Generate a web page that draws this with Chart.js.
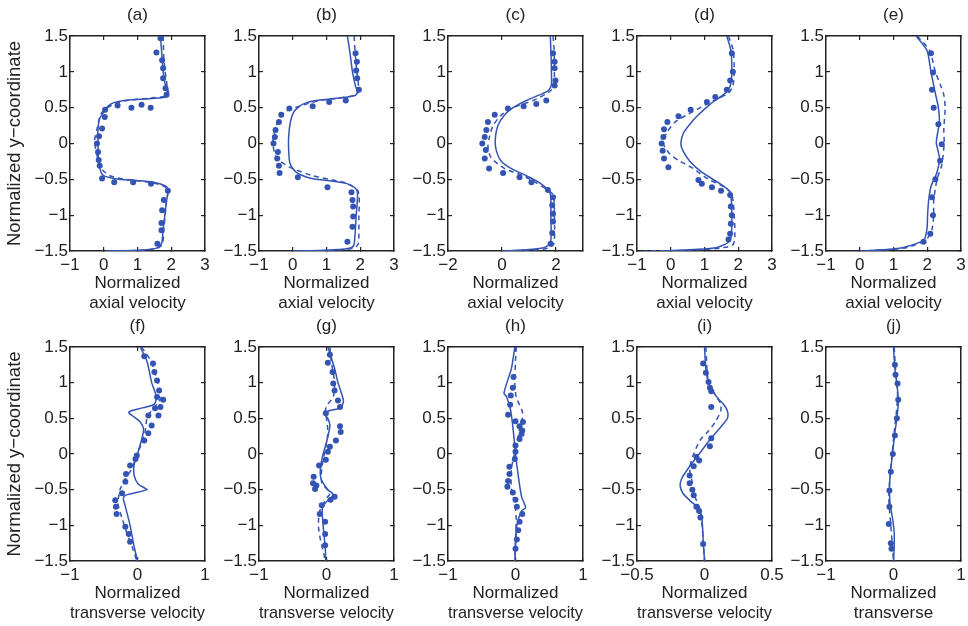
<!DOCTYPE html>
<html>
<head>
<meta charset="utf-8">
<script src="https://cdn.jsdelivr.net/npm/chart.js@4.4.1/dist/chart.umd.min.js"></script>
<style>
  html, body { margin: 0; padding: 0; background: #fff; }
  #fig { position: relative; width: 968px; height: 626px; overflow: hidden; }
  #fig canvas { position: absolute; }
</style>
</head>
<body>
<div id="fig"></div>
<script>
// tick values
const yTicks = [-1.5, -1, -0.5, 0, 0.5, 1, 1.5];
const axialTicks = [-1, 0, 1, 2, 3];
const axialTicksWide = [-2, 0, 2];
const transTicks = [-1, 0, 1];
const transTicksNarrow = [-0.5, 0, 0.5];

// profiles as [velocity, y] pairs, listed top to bottom
// (a)
const aSolid = [[1.68,1.5],[1.72,1.25],[1.76,1.0],[1.83,0.8],[1.90,0.7],[1.84,0.65],[1.2,0.62],[0.6,0.6],[0.3,0.57],[0.12,0.52],[0.02,0.45],[-0.12,0.35],[-0.17,0.2],[-0.17,0],[-0.16,-0.2],[-0.13,-0.32],[-0.03,-0.44],[0.45,-0.5],[1.1,-0.52],[1.56,-0.55],[1.86,-0.6],[1.91,-0.66],[1.86,-0.8],[1.81,-1.0],[1.76,-1.2],[1.71,-1.4],[1.56,-1.46],[1.0,-1.49],[0.08,-1.5]];
const aDashed = [[1.76,1.5],[1.78,1.2],[1.82,1.0],[1.88,0.8],[1.92,0.7],[1.85,0.66],[1.3,0.63],[0.7,0.6],[0.35,0.56],[0.18,0.52],[0.02,0.47],[-0.1,0.4],[-0.2,0.2],[-0.27,0.05],[-0.25,-0.05],[-0.18,-0.2],[-0.07,-0.35],[0.18,-0.45],[0.67,-0.5],[1.47,-0.55],[1.8,-0.6],[1.9,-0.66],[1.86,-0.8],[1.82,-1.0],[1.78,-1.2],[1.74,-1.4],[1.6,-1.46],[1.1,-1.49],[0.08,-1.5]];
const aDots = [[1.68,1.47],[1.56,1.27],[1.73,1.16],[1.76,1.05],[1.76,0.91],[1.83,0.77],[1.86,0.68],[1.39,0.5],[1.12,0.54],[0.82,0.5],[0.41,0.53],[0.04,0.47],[0.03,0.37],[-0.05,0.21],[-0.14,0.1],[-0.2,0.0],[-0.17,-0.12],[-0.15,-0.23],[-0.12,-0.31],[-0.05,-0.49],[0.31,-0.54],[0.87,-0.54],[1.4,-0.56],[1.9,-0.66],[1.78,-0.79],[1.73,-0.93],[1.71,-1.11],[1.71,-1.21],[1.59,-1.4]];
// (b)
const bSolid = [[1.62,1.5],[1.7,1.25],[1.77,1.0],[1.86,0.8],[1.92,0.72],[1.85,0.67],[1.3,0.63],[0.7,0.6],[0.35,0.56],[0.15,0.5],[0.02,0.43],[-0.07,0.3],[-0.12,0.1],[-0.12,-0.1],[-0.08,-0.28],[0.1,-0.4],[0.5,-0.48],[1.1,-0.52],[1.6,-0.56],[1.85,-0.62],[1.92,-0.7],[1.88,-1.0],[1.84,-1.3],[1.8,-1.43],[1.6,-1.47],[1.0,-1.49],[0.0,-1.5]];
const bDashed = [[1.82,1.5],[1.85,1.25],[1.9,1.0],[1.95,0.8],[1.95,0.72],[1.8,0.67],[1.3,0.63],[0.79,0.6],[0.2,0.52],[-0.2,0.45],[-0.44,0.3],[-0.57,0.1],[-0.59,0],[-0.49,-0.2],[-0.2,-0.3],[0,-0.35],[0.59,-0.45],[1.08,-0.5],[1.57,-0.55],[1.92,-0.65],[1.97,-0.75],[1.96,-1.0],[1.94,-1.4],[1.8,-1.46],[1.2,-1.49],[0.0,-1.5]];
const bDots = [[1.86,1.26],[1.9,1.14],[1.88,1.02],[1.91,0.91],[1.96,0.75],[1.57,0.6],[1.08,0.58],[0.59,0.52],[-0.1,0.49],[-0.34,0.4],[-0.41,0.3],[-0.51,0.19],[-0.53,0.09],[-0.57,0],[-0.44,-0.12],[-0.46,-0.21],[-0.41,-0.31],[-0.39,-0.41],[0.15,-0.47],[1.03,-0.61],[1.74,-0.68],[1.77,-0.79],[1.79,-0.88],[1.79,-1.02],[1.77,-1.16],[1.62,-1.37]];
// (c)
const cSolid = [[1.79,1.5],[1.82,1.2],[1.83,1.0],[1.83,0.82],[1.72,0.74],[1.52,0.7],[0.9,0.6],[0.41,0.5],[0.1,0.4],[-0.15,0.25],[-0.25,0.05],[-0.21,-0.1],[-0.02,-0.25],[0.35,-0.35],[0.9,-0.45],[1.4,-0.55],[1.7,-0.65],[1.8,-0.72],[1.81,-1.0],[1.8,-1.38],[1.58,-1.45],[1.0,-1.48],[0.0,-1.5]];
const cDashed = [[1.89,1.5],[1.93,1.3],[1.94,1.0],[1.92,0.8],[1.75,0.72],[1.15,0.6],[0.41,0.5],[-0.02,0.4],[-0.33,0.25],[-0.46,0.1],[-0.52,-0.05],[-0.4,-0.2],[0.1,-0.35],[0.78,-0.45],[1.27,-0.55],[1.7,-0.65],[1.9,-0.72],[1.94,-1.0],[1.92,-1.4],[1.7,-1.46],[1.1,-1.49],[0.0,-1.5]];
const cDots = [[1.89,1.26],[1.95,1.14],[1.95,1.05],[1.98,0.88],[1.95,0.81],[1.64,0.6],[1.27,0.55],[0.8,0.52],[0.22,0.49],[-0.27,0.4],[-0.52,0.3],[-0.58,0.19],[-0.64,0.09],[-0.73,0],[-0.6,-0.09],[-0.64,-0.21],[-0.48,-0.35],[0.04,-0.41],[0.65,-0.47],[1.09,-0.54],[1.7,-0.65],[1.89,-0.75],[1.86,-0.86],[1.89,-0.98],[1.89,-1.09],[1.86,-1.25],[1.8,-1.4]];
// (d)
const dSolid = [[1.66,1.5],[1.78,1.3],[1.81,1.0],[1.76,0.8],[1.61,0.7],[1.17,0.55],[0.82,0.4],[0.62,0.3],[0.38,0.15],[0.3,0],[0.36,-0.1],[0.57,-0.25],[0.92,-0.4],[1.42,-0.55],[1.71,-0.65],[1.78,-0.72],[1.81,-1.0],[1.76,-1.35],[1.37,-1.45],[0.67,-1.48],[-0.3,-1.5]];
const dDashed = [[1.71,1.5],[1.85,1.3],[1.88,1.0],[1.84,0.8],[1.7,0.7],[1.07,0.55],[0.48,0.4],[0.13,0.3],[-0.12,0.15],[-0.22,0],[-0.02,-0.15],[0.28,-0.25],[0.67,-0.35],[1.12,-0.5],[1.56,-0.6],[1.8,-0.7],[1.88,-1.0],[1.86,-1.4],[1.45,-1.46],[0.5,-1.49],[-0.8,-1.5]];
const dDots = [[1.81,1.26],[1.84,1.0],[1.76,0.88],[1.66,0.75],[1.32,0.65],[1.07,0.58],[0.59,0.47],[0.23,0.38],[-0.1,0.3],[-0.2,0.2],[-0.22,0.09],[-0.27,0],[-0.24,-0.1],[-0.2,-0.21],[-0.07,-0.33],[0.82,-0.51],[0.92,-0.56],[1.22,-0.61],[1.49,-0.66],[1.76,-0.72],[1.78,-0.88],[1.81,-1.0],[1.78,-1.12],[1.76,-1.26],[1.71,-1.34]];
// (e)
const eSolid = [[1.67,1.5],[1.99,1.3],[2.11,1.0],[2.24,0.7],[2.33,0.5],[2.36,0.3],[2.29,0.1],[2.27,0],[2.36,-0.2],[2.29,-0.4],[2.11,-0.6],[2.04,-0.8],[2.01,-1.0],[1.99,-1.2],[1.89,-1.35],[1.3,-1.45],[0.8,-1.48],[0,-1.5]];
const eDashed = [[1.7,1.5],[2.07,1.3],[2.24,1.0],[2.48,0.7],[2.53,0.5],[2.49,0.2],[2.5,0],[2.43,-0.3],[2.29,-0.5],[2.19,-0.8],[2.19,-1.0],[2.14,-1.2],[1.95,-1.35],[1.4,-1.45],[0.9,-1.48],[0,-1.5]];
const eDots = [[2.11,1.26],[2.17,0.99],[2.14,0.75],[2.19,0.5],[2.33,0.27],[2.43,-0.01],[2.38,-0.24],[2.24,-0.5],[2.14,-0.75],[2.17,-1.0],[2.09,-1.26],[1.89,-1.37]];
// (f)
const fSolid = [[0.04,1.5],[0.14,1.3],[0.21,1.0],[0.28,0.8],[0.25,0.7],[0.09,0.65],[-0.11,0.6],[-0.13,0.58],[-0.08,0.54],[0.04,0.45],[0.09,0.35],[0.06,0.2],[0,0],[-0.05,-0.15],[-0.05,-0.3],[0.01,-0.42],[0.11,-0.48],[0.14,-0.5],[-0.06,-0.55],[-0.18,-0.58],[-0.21,-0.62],[-0.19,-0.7],[-0.11,-1.0],[-0.05,-1.3],[0,-1.5]];
const fDashed = [[0.06,1.5],[0.2,1.3],[0.3,1.0],[0.35,0.8],[0.29,0.7],[0.2,0.6],[0.14,0.5],[0.11,0.3],[0.04,0.1],[-0.01,0],[-0.08,-0.2],[-0.18,-0.35],[-0.26,-0.5],[-0.28,-0.6],[-0.29,-0.7],[-0.23,-0.9],[-0.16,-1.1],[-0.08,-1.3],[-0.01,-1.5]];
const fDots = [[0.10,1.37],[0.23,1.27],[0.25,1.15],[0.29,1.03],[0.32,0.89],[0.29,0.8],[0.38,0.76],[0.34,0.66],[0.26,0.64],[0.31,0.54],[0.16,0.54],[0.21,0.4],[0.16,0.29],[0.1,0.19],[-0.01,-0.02],[-0.03,-0.07],[-0.11,-0.16],[-0.17,-0.28],[-0.18,-0.39],[-0.23,-0.55],[-0.33,-0.65],[-0.32,-0.74],[-0.31,-0.84],[-0.18,-1.02],[-0.13,-1.12],[-0.11,-1.23]];
// (g)
const gSolid = [[0.02,1.5],[0.12,1.2],[0.17,1.0],[0.25,0.75],[0.21,0.65],[0.02,0.6],[-0.02,0.55],[0.02,0.5],[0.05,0.4],[0.01,0.2],[-0.05,0],[-0.09,-0.2],[-0.08,-0.35],[0.02,-0.5],[0.1,-0.57],[0.02,-0.65],[-0.06,-0.75],[-0.05,-1.0],[-0.02,-1.3],[-0.01,-1.5]];
const gDashed = [[0.05,1.5],[0.07,1.3],[0.12,1.0],[0.1,0.8],[0.02,0.7],[-0.02,0.6],[0,0.5],[0.02,0.3],[-0.01,0.1],[-0.07,-0.2],[-0.07,-0.4],[0.05,-0.55],[0,-0.62],[-0.1,-0.8],[-0.12,-1.0],[-0.09,-1.2],[-0.04,-1.4],[-0.02,-1.5]];
const gDots = [[0.05,1.39],[0.02,1.28],[0.09,1.15],[0.1,0.99],[0.12,0.89],[0.17,0.75],[0.2,0.66],[-0.01,0.57],[0.2,0.39],[0.21,0.31],[0.14,0.19],[0.05,0.1],[0.02,0.03],[-0.01,-0.08],[-0.11,-0.16],[-0.19,-0.32],[-0.2,-0.41],[-0.15,-0.44],[-0.17,-0.49],[0.12,-0.6],[0.06,-0.64],[-0.07,-0.72],[-0.1,-0.84],[-0.02,-0.95],[-0.02,-1.12],[-0.02,-1.28]];
// (h)
const hSolid = [[-0.01,1.5],[-0.06,1.2],[-0.11,1.05],[-0.17,0.85],[-0.13,0.8],[-0.07,0.6],[-0.03,0.3],[0,0],[0.04,-0.3],[0.09,-0.6],[0.15,-0.75],[0.09,-0.8],[0.02,-1.0],[0,-1.3],[-0.01,-1.5]];
const hDashed = [[0.01,1.5],[0,1.3],[-0.01,1.0],[0.01,0.8],[0.1,0.6],[0.1,0.5],[0.06,0.35],[0.01,0.1],[-0.06,-0.2],[-0.06,-0.5],[-0.01,-0.7],[0.01,-0.9],[0.0,-1.2],[-0.01,-1.5]];
const hDots = [[-0.03,1.08],[-0.04,0.93],[-0.07,0.82],[-0.08,0.69],[-0.11,0.55],[0.0,0.46],[0.11,0.45],[0.06,0.39],[0.1,0.33],[0.09,0.28],[0.06,0.21],[0.0,0.12],[0.0,0.03],[-0.01,-0.07],[-0.09,-0.18],[-0.09,-0.28],[-0.11,-0.38],[-0.12,-0.46],[-0.04,-0.54],[0.0,-0.64],[0.02,-0.74],[0.1,-0.84],[0.06,-0.95],[0.04,-1.07],[0.02,-1.2],[0.0,-1.33]];
// (i)
const iSolid = [[0.0,1.5],[0.01,1.2],[0.03,1.0],[0.09,0.8],[0.14,0.7],[0.17,0.6],[0.17,0.5],[0.13,0.4],[0.04,0.2],[-0.04,0],[-0.12,-0.2],[-0.17,-0.35],[-0.18,-0.45],[-0.16,-0.55],[-0.11,-0.65],[-0.05,-0.75],[-0.02,-0.9],[-0.01,-1.2],[0,-1.5]];
const iDashed = [[0.01,1.5],[0.03,1.0],[0.09,0.8],[0.12,0.7],[0.12,0.6],[0.08,0.45],[0.02,0.3],[-0.03,0.2],[-0.08,0],[-0.11,-0.2],[-0.09,-0.4],[-0.08,-0.5],[-0.07,-0.6],[-0.03,-0.8],[-0.01,-1.2],[0,-1.5]];
const iDots = [[-0.01,1.27],[0.01,1.14],[0.03,1.01],[0.04,0.93],[0.05,0.88],[0.05,0.66],[0.05,0.22],[0.04,0.11],[-0.06,-0.04],[-0.04,-0.09],[-0.08,-0.17],[-0.11,-0.3],[-0.11,-0.41],[-0.09,-0.5],[-0.08,-0.58],[-0.06,-0.74],[-0.04,-0.8],[-0.03,-0.89],[-0.01,-1.26]];
// (j)
const jSolid = [[0,1.5],[0.02,1.2],[0.06,0.9],[0.07,0.7],[0.05,0.5],[0.02,0.3],[-0.015,0],[-0.05,-0.3],[-0.06,-0.5],[-0.05,-0.7],[-0.015,-0.9],[0.01,-1.1],[0.01,-1.3],[0,-1.5]];
const jDashed = [[0.01,1.5],[0.03,1.2],[0.06,0.8],[0.01,0.3],[-0.04,-0.2],[-0.07,-0.6],[-0.04,-1.0],[-0.015,-1.3],[0,-1.5]];
const jDots = [[0.02,1.25],[0.03,1.11],[0.06,0.99],[0.07,0.76],[0.05,0.5],[0.02,0.26],[-0.01,0.0],[-0.04,-0.25],[-0.06,-0.51],[-0.06,-0.74],[-0.07,-0.98],[-0.04,-1.25],[-0.03,-1.33]];

const axialLabel = ['Normalized', 'axial velocity'];
const transLabel = ['Normalized', 'transverse velocity'];
const yLabel = 'Normalized y\u2212coordinate';

const panels = [
  { tag: '(a)', solid: aSolid, dashed: aDashed, dots: aDots, min: -1, max: 3, ticks: axialTicks, label: axialLabel },
  { tag: '(b)', solid: bSolid, dashed: bDashed, dots: bDots, min: -1, max: 3, ticks: axialTicks, label: axialLabel },
  { tag: '(c)', solid: cSolid, dashed: cDashed, dots: cDots, min: -2, max: 3, ticks: axialTicksWide, label: axialLabel },
  { tag: '(d)', solid: dSolid, dashed: dDashed, dots: dDots, min: -1, max: 3, ticks: axialTicks, label: axialLabel },
  { tag: '(e)', solid: eSolid, dashed: eDashed, dots: eDots, min: -1, max: 3, ticks: axialTicks, label: axialLabel },
  { tag: '(f)', solid: fSolid, dashed: fDashed, dots: fDots, min: -1, max: 1, ticks: transTicks, label: transLabel },
  { tag: '(g)', solid: gSolid, dashed: gDashed, dots: gDots, min: -1, max: 1, ticks: transTicks, label: transLabel },
  { tag: '(h)', solid: hSolid, dashed: hDashed, dots: hDots, min: -1, max: 1, ticks: transTicks, label: transLabel },
  { tag: '(i)', solid: iSolid, dashed: iDashed, dots: iDots, min: -0.5, max: 0.5, ticks: transTicksNarrow, label: transLabel },
  { tag: '(j)', solid: jSolid, dashed: jDashed, dots: jDots, min: -1, max: 1, ticks: transTicks, label: ['Normalized', 'transverse'] }
];

const blue = '#3454b4';
const ink = '#222222';
const family = '"Liberation Sans", Arial, Helvetica, sans-serif';

// grid of axes boxes
const colLeft = [70, 259, 448, 637, 826];
const rowTop = [36, 347];
const rowHeight = [215, 214];
const boxWidth = 135;
const marginLeft = 70, marginTop = 36, marginBottom = 62, marginRight = 24;
const tickIn = -4; // negative length puts tick marks inside the box

const fmt = (v) => (v < 0 ? '\u2212' : '') + Math.abs(v);
const toXY = (pts) => pts.map(([x, y]) => ({ x, y }));

// shared look for the four box edges
const edge = (extra) => Object.assign({
  border: { display: true, color: ink, width: 1.5 },
  grid: { display: true, drawOnChartArea: false, drawTicks: true, tickLength: tickIn, color: ink, lineWidth: 1.2 }
}, extra);

const fig = document.getElementById('fig');

panels.forEach((p, i) => {
  const row = Math.floor(i / 5), col = i % 5;
  const canvas = document.createElement('canvas');
  const w = marginLeft + boxWidth + marginRight;
  const h = marginTop + rowHeight[row] + marginBottom;
  canvas.width = w; canvas.height = h;
  canvas.style.width = w + 'px'; canvas.style.height = h + 'px';
  canvas.style.left = (colLeft[col] - marginLeft) + 'px';
  canvas.style.top = (rowTop[row] - marginTop) + 'px';
  fig.appendChild(canvas);

  const xTicks = (s) => { s.ticks = p.ticks.map((v) => ({ value: v })); };
  const yTickList = (s) => { s.ticks = yTicks.map((v) => ({ value: v })); };

  new Chart(canvas, {
    type: 'scatter',
    data: {
      datasets: [
        { data: toXY(p.dots), xAxisID: 'x', yAxisID: 'y', showLine: false, pointRadius: 3, pointBackgroundColor: blue, pointBorderWidth: 0 },
        { data: toXY(p.solid), xAxisID: 'x', yAxisID: 'y', showLine: true, borderColor: blue, borderWidth: 1.5, pointRadius: 0, tension: 0.25 },
        { data: toXY(p.dashed), xAxisID: 'x', yAxisID: 'y', showLine: true, borderColor: blue, borderWidth: 1.5, borderDash: [5, 4], pointRadius: 0, tension: 0.25 }
      ]
    },
    options: {
      responsive: false,
      animation: false,
      devicePixelRatio: 1,
      layout: { padding: { left: 0, top: 0, right: marginRight, bottom: 0 } },
      plugins: {
        legend: { display: false },
        tooltip: { enabled: false },
        title: {
          display: true, text: p.tag, fullSize: false, color: ink,
          font: { family, size: 17, weight: 'normal', lineHeight: 1.2 },
          padding: { top: 4.8, bottom: 10.8 }
        }
      },
      scales: {
        x: edge({
          type: 'linear', position: 'bottom', min: p.min, max: p.max,
          afterBuildTicks: xTicks,
          afterFit: (s) => { s.height = marginBottom; },
          ticks: { padding: 7.8, color: ink, font: { family, size: 17 }, callback: fmt, maxRotation: 0, autoSkip: false },
          title: { display: true, text: p.label, color: ink, font: { family, size: 17, lineHeight: 1.18 }, padding: { top: 0, bottom: 0 } }
        }),
        y: edge({
          type: 'linear', position: 'left', min: -1.5, max: 1.5,
          afterBuildTicks: yTickList,
          afterFit: (s) => { s.width = marginLeft; },
          ticks: { padding: 6, color: ink, font: { family, size: 17 }, callback: fmt, autoSkip: false },
          title: { display: col === 0, text: yLabel, color: ink, font: { family, size: 18.5, lineHeight: 1.2 }, padding: { top: 3.9, bottom: 0 } }
        }),
        x2: edge({
          type: 'linear', axis: 'x', position: 'top', min: p.min, max: p.max,
          afterBuildTicks: xTicks,
          afterFit: (s) => { s.height = 0; },
          ticks: { display: false }
        }),
        y2: edge({
          type: 'linear', axis: 'y', position: 'right', min: -1.5, max: 1.5,
          afterBuildTicks: yTickList,
          afterFit: (s) => { s.width = 0; },
          ticks: { display: false }
        })
      }
    }
  });
});
</script>
</body>
</html>
